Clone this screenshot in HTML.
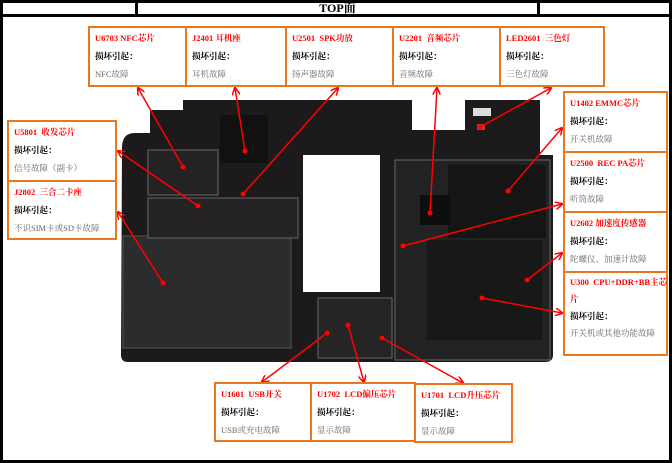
<!DOCTYPE html>
<html><head><meta charset="utf-8">
<style>
*{margin:0;padding:0;box-sizing:border-box}
body{width:672px;height:463px;background:#fff;position:relative;overflow:hidden;font-family:"Liberation Serif","Noto Serif CJK SC",serif}
.b{position:absolute;border:2px solid #e8771f;background:#fff;padding:1px 0 0 5px;font-size:8.5px;line-height:18px;white-space:nowrap}
.t{color:#f00;font-weight:bold;font-size:8.5px}
.k{color:#000;font-weight:bold}
.d{color:#666}
.line{position:absolute;background:#000}
</style></head><body>
<div class="line" style="left:0;top:0;width:672px;height:3px"></div>
<div class="line" style="left:0;top:14px;width:672px;height:3px"></div>
<div class="line" style="left:0;top:0;width:3px;height:463px"></div>
<div class="line" style="left:669px;top:0;width:3px;height:463px"></div>
<div class="line" style="left:0;top:460px;width:672px;height:3px"></div>
<div class="line" style="left:135px;top:0;width:3px;height:17px"></div>
<div class="line" style="left:537px;top:0;width:3px;height:17px"></div>
<div style="position:absolute;left:138px;top:2px;width:399px;text-align:center;font-size:12px;line-height:13px;font-weight:bold">TOP面</div>

<svg style="position:absolute;left:0;top:0" width="672" height="463">
<defs><marker id="a" markerWidth="8" markerHeight="8" refX="7" refY="4" orient="auto" markerUnits="userSpaceOnUse"><path d="M0,0 L8,4 L0,8" fill="none" stroke="#f00" stroke-width="1.5"/></marker></defs>
<path d="M122,148 Q122,133 135,133 L150,133 L150,110 L183,110 L183,100 L412,100 L412,130 L465,130 L465,100 L540,100 L540,155 L553,155 L553,355 Q553,362 545,362 L128,362 Q121,362 121,355 Z" fill="#1d1a1b"/>
<rect x="303" y="155" width="77" height="137" fill="#fff"/>
<rect x="123" y="236" width="168" height="112" fill="#2c2b2d" stroke="#555" stroke-width="1"/>
<rect x="318" y="298" width="74" height="60" fill="#262425" stroke="#666" stroke-width="1"/>
<rect x="395" y="160" width="155" height="200" fill="#222" stroke="#666" stroke-width="1"/>
<rect x="448" y="165" width="98" height="73" fill="#151515"/>
<rect x="427" y="240" width="115" height="100" fill="#181818"/>
<rect x="420" y="195" width="30" height="30" fill="#0e0e0e"/>
<rect x="148" y="150" width="70" height="45" fill="#252223" stroke="#666"/>
<rect x="148" y="198" width="150" height="40" fill="#252223" stroke="#666"/>
<rect x="220" y="115" width="48" height="48" fill="#111"/>
<rect x="473" y="108" width="18" height="8" fill="#ddd"/>
<rect x="477" y="124" width="8" height="6" fill="#c33"/>
<g stroke="#f00" stroke-width="1.5" marker-end="url(#a)" fill="none">
<line x1="183" y1="167" x2="138" y2="88"/>
<line x1="245" y1="151" x2="235" y2="88"/>
<line x1="243" y1="194" x2="338" y2="88"/>
<line x1="430" y1="213" x2="437" y2="88"/>
<line x1="480" y1="127" x2="551" y2="88"/>
<line x1="508" y1="191" x2="562" y2="128"/>
<line x1="403" y1="246" x2="562" y2="204"/>
<line x1="527" y1="280" x2="562" y2="253"/>
<line x1="482" y1="298" x2="562" y2="313"/>
<line x1="198" y1="206" x2="118" y2="151"/>
<line x1="163" y1="283" x2="118" y2="212"/>
<line x1="327" y1="333" x2="262" y2="382"/>
<line x1="348" y1="325" x2="364" y2="382"/>
<line x1="382" y1="338" x2="463" y2="383"/>
</g>
<g fill="#f00">
<circle cx="183" cy="167" r="2.5"/><circle cx="245" cy="151" r="2.5"/><circle cx="243" cy="194" r="2.5"/>
<circle cx="430" cy="213" r="2.5"/><circle cx="480" cy="127" r="2.5"/><circle cx="508" cy="191" r="2.5"/>
<circle cx="403" cy="246" r="2.5"/><circle cx="527" cy="280" r="2.5"/><circle cx="482" cy="298" r="2.5"/>
<circle cx="198" cy="206" r="2.5"/><circle cx="163" cy="283" r="2.5"/><circle cx="327" cy="333" r="2.5"/>
<circle cx="348" cy="325" r="2.5"/><circle cx="382" cy="338" r="2.5"/>
</g>
</svg>

<div class="b" style="left:88px;top:26px;width:99px;height:61px"><div class="t">U6703 NFC芯片</div><div class="k">损坏引起：</div><div class="d">NFC故障</div></div>
<div class="b" style="left:185px;top:26px;width:102px;height:61px"><div class="t">J2401 耳机座</div><div class="k">损坏引起：</div><div class="d">耳机故障</div></div>
<div class="b" style="left:285px;top:26px;width:109px;height:61px"><div class="t">U2501&nbsp; SPK功放</div><div class="k">损坏引起：</div><div class="d">扬声器故障</div></div>
<div class="b" style="left:392px;top:26px;width:109px;height:61px"><div class="t">U2201&nbsp; 音频芯片</div><div class="k">损坏引起：</div><div class="d">音频故障</div></div>
<div class="b" style="left:499px;top:26px;width:106px;height:61px"><div class="t">LED2601&nbsp; 三色灯</div><div class="k">损坏引起：</div><div class="d">三色灯故障</div></div>

<div class="b" style="left:563px;top:91px;width:105px;height:62px"><div class="t">U1402 EMMC芯片</div><div class="k">损坏引起：</div><div class="d">开关机故障</div></div>
<div class="b" style="left:563px;top:151px;width:105px;height:62px"><div class="t">U2500&nbsp; REC PA芯片</div><div class="k">损坏引起：</div><div class="d">听筒故障</div></div>
<div class="b" style="left:563px;top:211px;width:105px;height:62px"><div class="t">U2602 加速度传感器</div><div class="k">损坏引起：</div><div class="d">陀螺仪、加速计故障</div></div>
<div class="b" style="left:563px;top:271px;width:105px;height:85px;line-height:17px"><div class="t">U300&nbsp; CPU+DDR+BB主芯<br>片</div><div class="k">损坏引起：</div><div class="d">开关机或其他功能故障</div></div>

<div class="b" style="left:7px;top:120px;width:110px;height:62px"><div class="t">U5801&nbsp; 收发芯片</div><div class="k">损坏引起：</div><div class="d">信号故障（副卡）</div></div>
<div class="b" style="left:7px;top:180px;width:110px;height:60px"><div class="t">J2802&nbsp; 三合二卡座</div><div class="k">损坏引起：</div><div class="d">不识SIM卡或SD卡故障</div></div>

<div class="b" style="left:214px;top:382px;width:98px;height:60px"><div class="t">U1601&nbsp; USB开关</div><div class="k">损坏引起：</div><div class="d">USB或充电故障</div></div>
<div class="b" style="left:310px;top:382px;width:106px;height:60px"><div class="t">U1702&nbsp; LCD偏压芯片</div><div class="k">损坏引起：</div><div class="d">显示故障</div></div>
<div class="b" style="left:414px;top:383px;width:99px;height:60px"><div class="t">U1701&nbsp; LCD升压芯片</div><div class="k">损坏引起：</div><div class="d">显示故障</div></div>
</body></html>
